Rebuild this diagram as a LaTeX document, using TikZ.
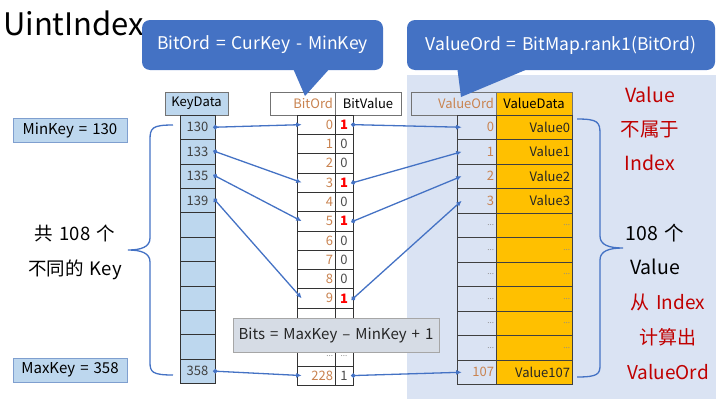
\documentclass[tikz,border=0pt]{standalone}
\usepackage{fontspec}
\setmainfont{Noto Sans CJK SC}[WordSpace=1.5]
\usetikzlibrary{arrows.meta,positioning,calc}
\definecolor{uiblue}{HTML}{4472C4}
\definecolor{uikey}{HTML}{BDD7EE}
\definecolor{uibg}{HTML}{DAE3F3}
\definecolor{uigold}{HTML}{FFC000}
\definecolor{uiord}{HTML}{C98350}
\definecolor{uired}{HTML}{C00000}
\definecolor{uibits}{HTML}{D6DCE5}
\definecolor{uiframe}{HTML}{7F9FCF}
\newcommand{\bitone}{\textcolor{red}{\bfseries 1}}
\newcommand{\moredots}{\textcolor{black!45}{\fontsize{8}{8}\selectfont...}}

\begin{document}
\begin{tikzpicture}[
    x=1pt, y=-1pt,
    every node/.style={font=\fontsize{13}{15}\selectfont},
    head/.style={draw=black!55, line width=0.6pt, minimum height=23pt,
                 inner xsep=2pt, inner ysep=0pt},
    keycell/.style={draw=black!80, line width=0.6pt, fill=uikey, text=black!75,
                    minimum width=35pt, minimum height=24.4pt, inner sep=0pt},
    ordcell/.style={draw=black!80, line width=0.6pt, fill=white, text=uiord,
                    text width=34pt, align=right, minimum height=19.3pt,
                    inner xsep=2pt, inner ysep=0pt},
    bitcell/.style={draw=black!80, line width=0.6pt, fill=white, text=black!70,
                    minimum width=18pt, minimum height=19.3pt, inner sep=0pt},
    vocell/.style={draw=black!75, line width=0.6pt, fill=uibg, text=uiord,
                   text width=35pt, align=right, minimum height=24.5pt,
                   inner xsep=2pt, inner ysep=0pt},
    vdcell/.style={draw=black!75, line width=0.6pt, fill=uigold, text=black!85,
                   text width=72pt, align=right, minimum height=24.5pt,
                   inner xsep=2pt, inner ysep=0pt},
    keylabel/.style={draw=uiframe, line width=0.8pt, fill=uikey,
                     minimum width=114pt, minimum height=24pt,
                     font=\fontsize{15}{17}\selectfont},
    callout/.style={fill=uiblue, text=white, rounded corners=8pt,
                    minimum height=50pt, font=\fontsize{17.5}{20}\selectfont},
    link/.style={uiblue, line width=1.3pt, shorten <=-2.2pt,
                 {Circle[length=4.4pt]}-{Latex[length=5.5pt,width=5pt]}},
    brace/.style={uiblue, line width=1.3pt}
  ]
  \useasboundingbox (0,0) rectangle (720,399);

  % ---- Value area background ----
  \fill[uibg] (407,75) rectangle (716,399);

  % ---- Title ----
  \node[anchor=base west, inner sep=0pt, font=\fontsize{31}{34}\selectfont]
    (title) at (3,35) {UintIndex};

  % ---- Column headers ----
  \node[head, fill=uikey, minimum width=63pt] (keyhead) at (196.5,103.5) {KeyData};
  \node[head, fill=white, text width=61pt, align=right, text=uiord]
    (ordhead) at (302.5,103.5) {BitOrd};
  \node[head, fill=white, minimum width=66pt] (bithead) at (368,103.5) {BitValue};
  \node[head, fill=uibg, text width=81pt, align=right, text=uiord]
    (vordhead) at (453.5,103.5) {ValueOrd};
  \node[head, fill=uigold, minimum width=76pt] (vdatahead) at (534,103.5) {ValueData};

  % ---- KeyData column ----
  \foreach \t [count=\i] in {130,133,135,139,{},{},{},{},{},{},358}
    \node[keycell] (k\i) at (197.5,{102.8+\i*24.4}) {\t};

  % ---- BitOrd / BitValue columns ----
  \foreach \o/\b [count=\i] in {0/\bitone,1/0,2/0,3/\bitone,4/0,5/\bitone,6/0,7/0,
                                8/0,9/\bitone,{}/{},{}/{},\moredots/\moredots,228/1} {
    \node[ordcell] (bo\i) at (316,{105.35+\i*19.3}) {\o};
    \node[bitcell] (bv\i) at (344,{105.35+\i*19.3}) {\b};
  }

  % ---- ValueOrd / ValueData columns ----
  \foreach \o/\d [count=\i] in {0/Value0,1/Value1,2/Value2,3/Value3,
                                \moredots/\moredots,\moredots/\moredots,\moredots/\moredots,
                                \moredots/\moredots,\moredots/\moredots,\moredots/\moredots,
                                107/Value107} {
    \node[vocell] (vo\i) at (476.5,{102.75+\i*24.5}) {\o};
    \node[vdcell] (vd\i) at (534,{102.75+\i*24.5}) {\d};
  }

  % ---- Key -> BitOrd ----
  \draw[link] (k1.east)  -- ([xshift=5pt]bo1.west);
  \draw[link] (k2.east)  -- ([xshift=5pt]bo4.west);
  \draw[link] (k3.east)  -- ([xshift=5pt]bo6.west);
  \draw[link] (k4.east)  -- ([xshift=5pt]bo10.west);
  \draw[link] (k11.east) -- ([xshift=5pt]bo14.west);

  % ---- BitValue -> ValueOrd ----
  \draw[link] (bv1.east)  -- ([xshift=5pt]vo1.west);
  \draw[link] (bv4.east)  -- ([xshift=5pt]vo2.west);
  \draw[link] (bv6.east)  -- ([xshift=5pt]vo3.west);
  \draw[link] (bv10.east) -- ([xshift=5pt]vo4.west);
  \draw[link] (bv14.east) -- ([xshift=5pt]vo11.west);

  % ---- Bits formula ----
  \node[draw=black!35, line width=0.6pt, fill=uibits, minimum width=206pt,
        minimum height=34pt, text=black!85, font=\fontsize{15}{17}\selectfont]
    (bits) at (336,335) {Bits = MaxKey – MinKey + 1};

  % ---- Min / Max labels and left brace ----
  \node[keylabel] (minkey) at (70,130) {MinKey = 130};
  \node[keylabel] (maxkey) at (70,370) {MaxKey = 358};
  \draw[brace] (173,125) .. controls (152,125) and (150,128) .. (150,140)
    -- (150,238) .. controls (150,247) and (141,250) .. (128,250)
    .. controls (141,250) and (150,253) .. (150,262)
    -- (150,362) .. controls (150,372) and (152,375) .. (173,375);
  \node[align=center, font=\fontsize{18.5}{35}\selectfont]
    (keycount) at (75,252) {共 108 个\\不同的 Key};

  % ---- Right brace and notes ----
  \draw[brace] (577,119) .. controls (598,119) and (600,122) .. (600,134)
    -- (600,236) .. controls (600,245) and (609,248) .. (623,248)
    .. controls (609,248) and (600,251) .. (600,260)
    -- (600,365) .. controls (600,374) and (598,377) .. (577,377);
  \node[align=center, text=uired, font=\fontsize{19.5}{34}\selectfont]
    (notindex) at (650,129) {Value\\不属于\\Index};
  \node[align=center, font=\fontsize{19.5}{34}\selectfont]
    (valcount) at (655,249) {108 个\\Value};
  \node[align=center, text=uired, font=\fontsize{19}{35}\selectfont]
    (fromindex) at (668,337) {从 Index\\计算出\\ValueOrd};

  % ---- Callouts ----
  \node[callout, minimum width=241pt] (calla) at (262.5,45) {BitOrd = CurKey - MinKey};
  \coordinate (tipa) at (305,96);
  \fill[uiblue] (292,66) -- (tipa) -- (332,66) -- cycle;
  \node[callout, minimum width=308pt] (callb) at (561,45) {ValueOrd = BitMap.rank1(BitOrd)};
  \coordinate (tipb) at (461,97);
  \fill[uiblue] (457,66) -- (tipb) -- (535,66) -- cycle;

\end{tikzpicture}
\end{document}
